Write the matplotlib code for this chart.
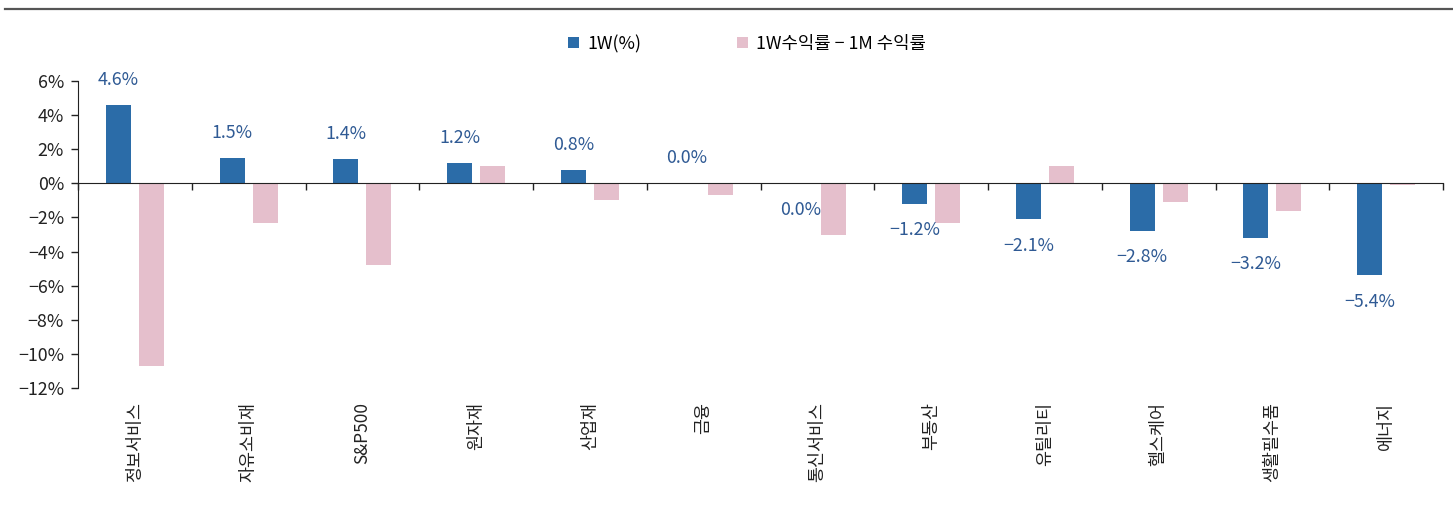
import matplotlib
matplotlib.use("Agg")
import matplotlib.pyplot as plt
import numpy as np
from matplotlib.lines import Line2D

plt.rcParams['font.family'] = ['Noto Sans CJK KR', 'DejaVu Sans']
plt.rcParams['axes.unicode_minus'] = True

categories = ['정보서비스', '자유소비재', 'S&P500', '원자재', '산업재', '금융',
              '통신서비스', '부동산', '유틸리티', '헬스케어', '생활필수품', '에너지']
week_ret = [4.6, 1.5, 1.4, 1.2, 0.8, 0.0, -0.01, -1.2, -2.1, -2.8, -3.2, -5.4]
diff_ret = [-10.7, -2.3, -4.8, 1.0, -1.0, -0.7, -3.0, -2.3, 1.0, -1.1, -1.6, -0.1]
series_names = ['1W(%)', '1W수익률 − 1M 수익률']
yticks = [6, 4, 2, 0, -2, -4, -6, -8, -10, -12]

blue = '#2b6ca8'
pink = '#e5bfcc'
label_color = '#2f5a94'
text_color = '#222222'

fig = plt.figure(figsize=(14.53, 5.08), dpi=100)
ax = fig.add_axes([78/1453, 1-388/508, (1443-78)/1453, (388-81)/508])

x = np.arange(len(categories))
w = 0.22
off = 0.145
b1 = ax.bar(x - off, week_ret, width=w, color=blue, label=series_names[0], zorder=2)
b2 = ax.bar(x + off, diff_ret, width=w, color=pink, label=series_names[1], zorder=2)

for xi, v in zip(x, week_ret):
    txt = f"{v:.1f}%"
    if txt == '-0.0%':
        txt = '0.0%'
    txt = txt.replace('-', '−')
    dy = 18 if v >= 0 else -19
    ax.annotate(txt, xy=(xi - off, v), xytext=(0, dy), textcoords='offset points',
                ha='center', va='center', fontsize=12.8, color=label_color)

ax.set_xlim(-0.5, len(categories) - 0.5)
ax.set_ylim(-12, 6)
ax.set_yticks(yticks)
ax.set_yticklabels([(f"{t}%").replace('-', '−') for t in yticks], fontsize=12.8, color=text_color)
ax.tick_params(axis='y', length=5, width=1, color='#222222', pad=5)

ax.spines['top'].set_visible(False)
ax.spines['right'].set_visible(False)
ax.spines['left'].set_color('#222222')
ax.spines['bottom'].set_position(('data', 0))
ax.spines['bottom'].set_color('#222222')
ax.spines['bottom'].set_zorder(3)
ax.set_xticks(np.arange(-0.5, len(categories), 1.0))
ax.set_xticklabels([])
ax.tick_params(axis='x', length=5, width=1, color='#222222', direction='out')

sec = ax.secondary_xaxis(0.0)
sec.set_xticks(x)
sec.set_xticklabels(categories, rotation=90, fontsize=12.5, color=text_color, va='top', ha='center')
sec.tick_params(axis='x', length=0, pad=10)
sec.spines['bottom'].set_visible(False)

fig.legend(handles=[b1, b2], labels=series_names, loc='center', bbox_to_anchor=(0.514, 1-44/508),
           ncol=2, frameon=False, fontsize=12.8, handlelength=0.6, handleheight=0.6,
           handletextpad=0.45, columnspacing=5.4)

fig.add_artist(Line2D([5/1453, 1.0], [1-9/508, 1-9/508], transform=fig.transFigure,
                      color='#555555', linewidth=1.6))

fig.savefig('out.png', dpi=100)
